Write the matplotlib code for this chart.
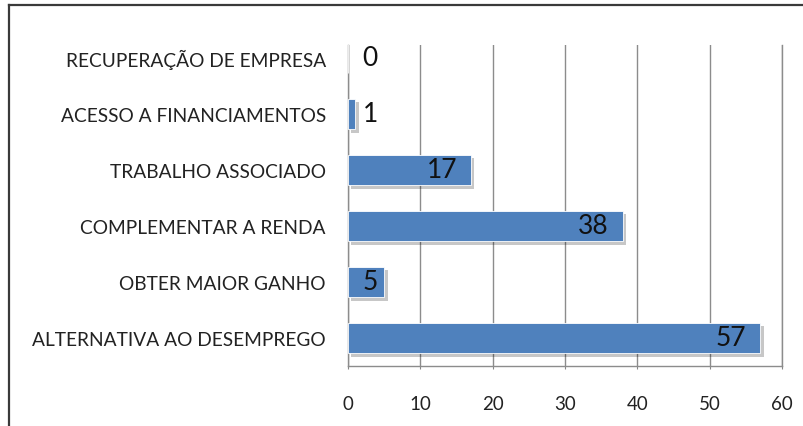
import matplotlib
matplotlib.use("Agg")
import matplotlib.pyplot as plt
import matplotlib.patheffects as pe
from matplotlib.lines import Line2D

categories = ["RECUPERAÇÃO DE EMPRESA", "ACESSO A FINANCIAMENTOS", "TRABALHO ASSOCIADO",
              "COMPLEMENTAR A RENDA", "OBTER MAIOR GANHO", "ALTERNATIVA AO DESEMPREGO"]
values = [0, 1, 17, 38, 5, 57]
xticks = [0, 10, 20, 30, 40, 50, 60]

plt.rcParams['font.family'] = ['Lato', 'DejaVu Sans']

W, H = 804, 427
fig = plt.figure(figsize=(W / 100, H / 100), dpi=100)
ax = fig.add_axes([348 / W, 1 - 367 / H, (782 - 348) / W, (367 - 46) / H])

cats = categories[::-1]
vals = values[::-1]
ypos = list(range(len(cats)))

bars = ax.barh(ypos, vals, height=0.55, color="#4F81BD", edgecolor="white", linewidth=0.6, zorder=3)
for b in bars:
    b.set_path_effects([pe.SimplePatchShadow(offset=(2.5, -2.5), shadow_rgbFace="black", alpha=0.22), pe.Normal()])

for y, v in zip(ypos, vals):
    if v >= 10:
        ax.annotate(str(v), xy=(v, y), xytext=(-10, 0), textcoords="offset points",
                    ha="right", va="center", fontsize=19, color="#111111", zorder=4)
    else:
        ax.annotate(str(v), xy=(0, y), xytext=(16, 0), textcoords="offset points",
                    ha="center", va="center", fontsize=19, color="#111111", zorder=4)

ax.set_xlim(0, 60)
ax.set_ylim(-0.5, 5.23)
ax.set_xticks(xticks)
ax.set_xticklabels([str(t) for t in xticks], fontsize=13.5, color="#222222")
ax.set_yticks(ypos)
ax.set_yticklabels(cats, fontsize=13.8, color="#222222")
ax.tick_params(axis="y", length=0, pad=16)
ax.tick_params(axis="x", length=2, pad=19, color="#868686")
ax.xaxis.grid(True, color="#8c8c8c", linewidth=1.0, zorder=0)
ax.set_axisbelow(True)
for s in ["left", "bottom", "right"]:
    ax.spines[s].set_color("#8c8c8c")
    ax.spines[s].set_linewidth(1.0)
ax.spines["top"].set_visible(False)

fig.add_artist(Line2D([8.5 / W, 1], [1 - 5.5 / H, 1 - 5.5 / H], color="#3a3a3a", linewidth=1.6))
fig.add_artist(Line2D([8.5 / W, 8.5 / W], [0, 1 - 5.5 / H], color="#3a3a3a", linewidth=1.6))

fig.savefig("out.png", dpi=100)
